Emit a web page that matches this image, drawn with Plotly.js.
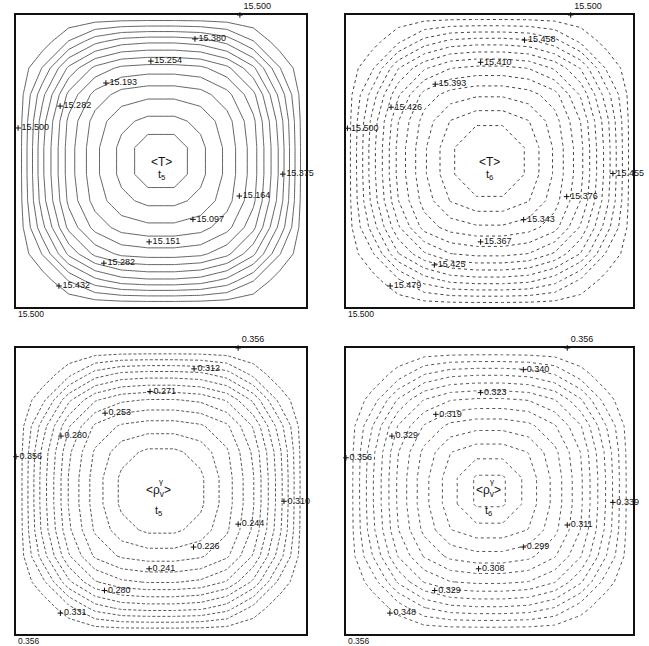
<!DOCTYPE html>
<html>
<head>
<meta charset="utf-8">
<script src="https://cdn.plot.ly/plotly-3.0.1.min.js"></script>
<style>html,body{margin:0;padding:0;background:#fff;}#plot{width:649px;height:646px;}</style>
</head>
<body>
<div id="plot"></div>
<script>
// ---- grid coordinates (normalised cross-section, 0..1) ----
const gridX = [0, 0.0909, 0.1818, 0.2727, 0.3636, 0.4545, 0.5455, 0.6364, 0.7273, 0.8182, 0.9091, 1];

// ---- <T> at t5 ----
const zT5 = [
  [15.5,15.5,15.5,15.5,15.5,15.5,15.5,15.5,15.5,15.5,15.5,15.5],
  [15.5,15.486,15.428,15.371,15.341,15.332,15.332,15.341,15.371,15.428,15.486,15.5],
  [15.5,15.428,15.317,15.245,15.211,15.203,15.203,15.211,15.245,15.317,15.428,15.5],
  [15.5,15.371,15.245,15.172,15.135,15.124,15.124,15.135,15.172,15.245,15.371,15.5],
  [15.5,15.341,15.211,15.135,15.090,15.070,15.070,15.090,15.135,15.211,15.341,15.5],
  [15.5,15.332,15.203,15.124,15.070,15.020,15.020,15.070,15.124,15.203,15.332,15.5],
  [15.5,15.332,15.203,15.124,15.070,15.020,15.020,15.070,15.124,15.203,15.332,15.5],
  [15.5,15.341,15.211,15.135,15.090,15.070,15.070,15.090,15.135,15.211,15.341,15.5],
  [15.5,15.371,15.245,15.172,15.135,15.124,15.124,15.135,15.172,15.245,15.371,15.5],
  [15.5,15.428,15.317,15.245,15.211,15.203,15.203,15.211,15.245,15.317,15.428,15.5],
  [15.5,15.486,15.428,15.371,15.341,15.332,15.332,15.341,15.371,15.428,15.486,15.5],
  [15.5,15.5,15.5,15.5,15.5,15.5,15.5,15.5,15.5,15.5,15.5,15.5]
];
const levelsT5 = {start: 15.045, end: 15.465, size: 0.035};

// ---- <T> at t6 ----
const zT6 = [
  [15.5,15.5,15.5,15.5,15.5,15.5,15.5,15.5,15.5,15.5,15.5,15.5],
  [15.5,15.496,15.481,15.461,15.450,15.447,15.447,15.450,15.461,15.481,15.496,15.5],
  [15.5,15.481,15.442,15.418,15.404,15.400,15.400,15.404,15.418,15.442,15.481,15.5],
  [15.5,15.461,15.418,15.386,15.373,15.368,15.368,15.373,15.386,15.418,15.461,15.5],
  [15.5,15.450,15.404,15.373,15.353,15.344,15.344,15.353,15.373,15.404,15.450,15.5],
  [15.5,15.447,15.400,15.368,15.344,15.326,15.326,15.344,15.368,15.400,15.447,15.5],
  [15.5,15.447,15.400,15.368,15.344,15.326,15.326,15.344,15.368,15.400,15.447,15.5],
  [15.5,15.450,15.404,15.373,15.353,15.344,15.344,15.353,15.373,15.404,15.450,15.5],
  [15.5,15.461,15.418,15.386,15.373,15.368,15.368,15.373,15.386,15.418,15.461,15.5],
  [15.5,15.481,15.442,15.418,15.404,15.400,15.400,15.404,15.418,15.442,15.481,15.5],
  [15.5,15.496,15.481,15.461,15.450,15.447,15.447,15.450,15.461,15.481,15.496,15.5],
  [15.5,15.5,15.5,15.5,15.5,15.5,15.5,15.5,15.5,15.5,15.5,15.5]
];
const levelsT6 = {start: 15.341, end: 15.4915, size: 0.0125};

// ---- <rho_v^gamma> at t5 ----
const zRho5 = [
  [0.356,0.356,0.356,0.356,0.356,0.356,0.356,0.356,0.356,0.356,0.356,0.356],
  [0.356,0.3526,0.3369,0.3164,0.3072,0.3051,0.3051,0.3072,0.3164,0.3369,0.3526,0.356],
  [0.356,0.3369,0.3011,0.2768,0.2664,0.2632,0.2632,0.2664,0.2768,0.3011,0.3369,0.356],
  [0.356,0.3164,0.2768,0.2503,0.2392,0.2354,0.2354,0.2392,0.2503,0.2768,0.3164,0.356],
  [0.356,0.3072,0.2664,0.2392,0.2226,0.2156,0.2156,0.2226,0.2392,0.2664,0.3072,0.356],
  [0.356,0.3051,0.2632,0.2354,0.2156,0.2042,0.2042,0.2156,0.2354,0.2632,0.3051,0.356],
  [0.356,0.3051,0.2632,0.2354,0.2156,0.2042,0.2042,0.2156,0.2354,0.2632,0.3051,0.356],
  [0.356,0.3072,0.2664,0.2392,0.2226,0.2156,0.2156,0.2226,0.2392,0.2664,0.3072,0.356],
  [0.356,0.3164,0.2768,0.2503,0.2392,0.2354,0.2354,0.2392,0.2503,0.2768,0.3164,0.356],
  [0.356,0.3369,0.3011,0.2768,0.2664,0.2632,0.2632,0.2664,0.2768,0.3011,0.3369,0.356],
  [0.356,0.3526,0.3369,0.3164,0.3072,0.3051,0.3051,0.3072,0.3164,0.3369,0.3526,0.356],
  [0.356,0.356,0.356,0.356,0.356,0.356,0.356,0.356,0.356,0.356,0.356,0.356]
];
const levelsRho5 = {start: 0.218, end: 0.3445, size: 0.0115};

// ---- <rho_v^gamma> at t6 ----
const zRho6 = [
  [0.356,0.356,0.356,0.356,0.356,0.356,0.356,0.356,0.356,0.356,0.356,0.356],
  [0.356,0.3546,0.3493,0.3419,0.3385,0.3376,0.3376,0.3385,0.3419,0.3493,0.3546,0.356],
  [0.356,0.3493,0.3361,0.3269,0.3226,0.3215,0.3215,0.3226,0.3269,0.3361,0.3493,0.356],
  [0.356,0.3419,0.3269,0.3171,0.3114,0.3096,0.3096,0.3114,0.3171,0.3269,0.3419,0.356],
  [0.356,0.3385,0.3226,0.3114,0.3034,0.3004,0.3004,0.3034,0.3114,0.3226,0.3385,0.356],
  [0.356,0.3376,0.3215,0.3096,0.3004,0.2928,0.2928,0.3004,0.3096,0.3215,0.3376,0.356],
  [0.356,0.3376,0.3215,0.3096,0.3004,0.2928,0.2928,0.3004,0.3096,0.3215,0.3376,0.356],
  [0.356,0.3385,0.3226,0.3114,0.3034,0.3004,0.3004,0.3034,0.3114,0.3226,0.3385,0.356],
  [0.356,0.3419,0.3269,0.3171,0.3114,0.3096,0.3096,0.3114,0.3171,0.3269,0.3419,0.356],
  [0.356,0.3493,0.3361,0.3269,0.3226,0.3215,0.3215,0.3226,0.3269,0.3361,0.3493,0.356],
  [0.356,0.3546,0.3493,0.3419,0.3385,0.3376,0.3376,0.3385,0.3419,0.3493,0.3546,0.356],
  [0.356,0.356,0.356,0.356,0.356,0.356,0.356,0.356,0.356,0.356,0.356,0.356]
];
const levelsRho6 = {start: 0.2936, end: 0.3512, size: 0.0048};

// ---- point labels (value, location in the section) ----
const lblT5Text = ['15.500','15.380','15.254','15.193','15.282','15.500','15.375','15.164','15.097','15.151','15.282','15.432'];
const lblT5X = [0.772,0.617,0.465,0.31,0.152,0.007,0.92,0.77,0.61,0.459,0.303,0.148];
const lblT5Y = [1.0,0.918,0.842,0.767,0.688,0.613,0.455,0.38,0.30,0.223,0.15,0.072];

const lblT6Text = ['15.500','15.458','15.410','15.393','15.426','15.500','15.455','15.376','15.343','15.367','15.425','15.479'];
const lblT6X = [0.783,0.622,0.469,0.311,0.157,0.005,0.93,0.769,0.619,0.469,0.308,0.154];
const lblT6Y = [1.0,0.914,0.838,0.763,0.684,0.612,0.457,0.378,0.299,0.223,0.144,0.072];

const lblRho5Text = ['0.356','0.312','0.271','0.253','0.280','0.356','0.310','0.244','0.226','0.241','0.280','0.331'];
const lblRho5X = [0.766,0.614,0.462,0.307,0.155,0.0,0.924,0.766,0.612,0.459,0.305,0.153];
const lblRho5Y = [1.0,0.927,0.848,0.772,0.692,0.62,0.464,0.384,0.304,0.228,0.152,0.073];

const lblRho6Text = ['0.356','0.340','0.323','0.319','0.329','0.356','0.339','0.311','0.299','0.308','0.329','0.348'];
const lblRho6X = [0.771,0.618,0.469,0.313,0.16,0.0,0.93,0.771,0.618,0.462,0.309,0.153];
const lblRho6Y = [1.0,0.924,0.844,0.768,0.692,0.616,0.46,0.381,0.304,0.228,0.152,0.073];

const cornerLabels = ['15.500','15.500','0.356','0.356'];
const panelTitles = ['&lt;T&gt;','&lt;T&gt;','&lt;ρ<sub>v</sub>&gt;','&lt;ρ<sub>v</sub>&gt;'];
const panelTimes = ['t<sub>5</sub>','t<sub>6</sub>','t<sub>5</sub>','t<sub>6</sub>'];

// ---- build ----
const FONT = 'Liberation Sans, Arial, sans-serif';
const panels = [
  {z: zT5, lv: levelsT5, tx: lblT5Text, lx: lblT5X, ly: lblT5Y, dash: 'solid', w: 0.8, col: '#3a3a3a', cx: 0.5, cy: 0.496, ty: 0.452},
  {z: zT6, lv: levelsT6, tx: lblT6Text, lx: lblT6X, ly: lblT6Y, dash: 'dot', w: 1.0, col: '#444', cx: 0.5, cy: 0.496, ty: 0.452},
  {z: zRho5, lv: levelsRho5, tx: lblRho5Text, lx: lblRho5X, ly: lblRho5Y, dash: '3px,2px', w: 0.9, col: '#444', cx: 0.49, cy: 0.5, ty: 0.43},
  {z: zRho6, lv: levelsRho6, tx: lblRho6Text, lx: lblRho6X, ly: lblRho6Y, dash: 'dot', w: 1.0, col: '#555', cx: 0.497, cy: 0.5, ty: 0.43}
];
const xDomains = [[0.0247,0.4715],[0.5331,0.9753],[0.0247,0.4715],[0.5331,0.9753]];
const yDomains = [[0.5248,0.9768],[0.5248,0.9768],[0.0186,0.4613],[0.0186,0.4613]];

const data = [];
const layout = {
  width: 649, height: 646,
  margin: {l: 0, r: 0, t: 0, b: 0},
  paper_bgcolor: '#fff', plot_bgcolor: '#fff',
  showlegend: false,
  annotations: []
};

panels.forEach((p, i) => {
  const n = i === 0 ? '' : String(i + 1);
  const xa = 'x' + n, ya = 'y' + n;
  const axBase = {range: [0, 1], showgrid: false, zeroline: false, showticklabels: false,
    ticks: '', showline: true, mirror: true, linecolor: '#111', linewidth: 1.6, fixedrange: true};
  layout['xaxis' + n] = Object.assign({}, axBase, {domain: xDomains[i], anchor: ya});
  layout['yaxis' + n] = Object.assign({}, axBase, {domain: yDomains[i], anchor: xa});

  data.push({
    type: 'contour', x: gridX, y: gridX, z: p.z, xaxis: xa, yaxis: ya,
    autocontour: false, showscale: false, hoverinfo: 'skip',
    contours: {start: p.lv.start, end: p.lv.end, size: p.lv.size, coloring: 'none', showlabels: false},
    line: {color: p.col, width: p.w, dash: p.dash, smoothing: 0}
  });
  data.push({
    type: 'scatter', mode: 'markers+text', x: p.lx, y: p.ly, text: p.tx,
    xaxis: xa, yaxis: ya, cliponaxis: false, hoverinfo: 'skip',
    textposition: p.ly.map(v => (v >= 1 ? 'top right' : 'middle right')),
    textfont: {family: FONT, size: 9, color: '#111'},
    marker: {symbol: 'cross-thin', size: 4, color: '#111', line: {width: 1, color: '#111'}}
  });
  layout.annotations.push({
    xref: xa, yref: ya, x: 0, y: 0, xanchor: 'left', yanchor: 'top', yshift: 0,
    text: cornerLabels[i], showarrow: false, font: {family: FONT, size: 8.5, color: '#111'}
  });
  layout.annotations.push({
    xref: xa, yref: ya, x: p.cx, y: p.cy, xanchor: 'center', yanchor: 'middle',
    text: panelTitles[i], showarrow: false, font: {family: FONT, size: 12, color: '#111'}
  });
  if (i >= 2) {
    layout.annotations.push({
      xref: xa, yref: ya, x: p.cx, y: p.cy, xanchor: 'center', yanchor: 'middle',
      xshift: 3, yshift: 9,
      text: 'γ', showarrow: false, font: {family: FONT, size: 8, color: '#111'}
    });
  }
  layout.annotations.push({
    xref: xa, yref: ya, x: p.cx, y: p.ty, xanchor: 'center', yanchor: 'middle',
    text: panelTimes[i], showarrow: false, font: {family: FONT, size: 11, color: '#111'}
  });
});

Plotly.newPlot('plot', data, layout, {displayModeBar: false, staticPlot: true});
</script>
</body>
</html>
